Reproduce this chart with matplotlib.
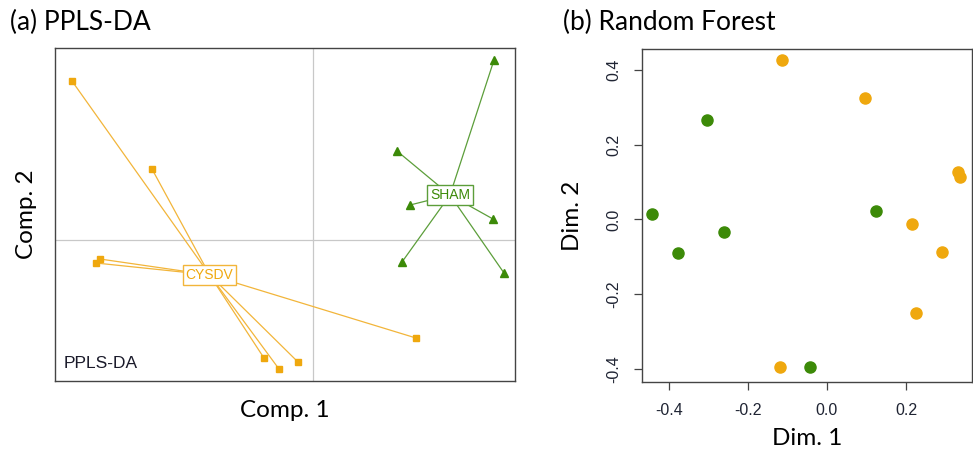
import matplotlib
matplotlib.use("Agg")
import matplotlib.pyplot as plt
import numpy as np

# ---- data ----
cysdv_comp1 = [-2.41, -1.61, -2.13, -2.17, -0.49, -0.34, -0.15, 1.03]
cysdv_comp2 = [1.59, 0.71, -0.19, -0.23, -1.18, -1.29, -1.22, -0.98]
sham_comp1 = [1.81, 0.84, 0.97, 1.80, 0.89, 1.91]
sham_comp2 = [1.80, 0.89, 0.35, 0.21, -0.22, -0.33]

rf_orange_dim1 = [-0.114, 0.096, 0.332, 0.337, 0.216, 0.292, 0.226, -0.119]
rf_orange_dim2 = [0.426, 0.325, 0.128, 0.114, -0.012, -0.088, -0.250, -0.396]
rf_green_dim1 = [-0.304, -0.443, -0.260, -0.376, 0.125, -0.042]
rf_green_dim2 = [0.265, 0.014, -0.034, -0.091, 0.023, -0.396]

rf_xticks = [-0.4, -0.2, 0.0, 0.2]
rf_yticks = [-0.4, -0.2, 0.0, 0.2, 0.4]

ORANGE = "#EFA80E"
GREEN = "#3C8A08"
ORANGE_LINE = "#F2B53A"
GREEN_LINE = "#5C9E3A"
TITLE_FONT = "Lato"
TICK_FONT = "Liberation Sans"

fig = plt.figure(figsize=(9.73, 4.55), dpi=100)

# ---- panel (a) ----
ax1 = fig.add_axes([0.0565, 0.1626, 0.4728, 0.7319])
ax1.axvline(0, color="#C8C8C8", lw=0.9, zorder=0)
ax1.axhline(0, color="#C8C8C8", lw=0.9, zorder=0)

def group(ax, xs, ys, color, lcolor, marker, ms, label):
    cx, cy = np.mean(xs), np.mean(ys)
    for x, y in zip(xs, ys):
        ax.plot([cx, x], [cy, y], color=lcolor, lw=0.9, zorder=2)
    ax.plot(xs, ys, linestyle="none", marker=marker, color=color, ms=ms, zorder=3)
    ax.text(cx, cy, label, color=color, fontsize=10, family=TICK_FONT,
            ha="center", va="center", zorder=4,
            bbox=dict(boxstyle="square,pad=0.2", fc="white", ec=lcolor, lw=1.0))

group(ax1, cysdv_comp1, cysdv_comp2, ORANGE, ORANGE_LINE, "s", 5, "CYSDV")
group(ax1, sham_comp1, sham_comp2, GREEN, GREEN_LINE, "^", 5.5, "SHAM")

ax1.set_xlim(-2.58, 2.02)
ax1.set_ylim(-1.41, 1.92)
ax1.set_xticks([])
ax1.set_yticks([])
for s in ax1.spines.values():
    s.set_color("#444444")
    s.set_linewidth(1.0)
ax1.text(0.018, 0.03, "PPLS-DA", transform=ax1.transAxes, fontsize=12.5,
         family=TICK_FONT, color="#1a1a2a", ha="left", va="bottom")
ax1.set_xlabel("Comp. 1", fontsize=17.5, family=TITLE_FONT, labelpad=14)
ax1.set_ylabel("Comp. 2", fontsize=17.5, family=TITLE_FONT, labelpad=13)
fig.text(10 / 973, 1 - 22 / 455, "(a) PPLS-DA", fontsize=19, family=TITLE_FONT,
         ha="left", va="center")

# ---- panel (b) ----
ax2 = fig.add_axes([0.6598, 0.1604, 0.3392, 0.7319])
ax2.plot(rf_orange_dim1, rf_orange_dim2, "o", color=ORANGE, ms=8, mec=ORANGE)
ax2.plot(rf_green_dim1, rf_green_dim2, "o", color=GREEN, ms=8, mec=GREEN)
ax2.set_xlim(-0.468, 0.367)
ax2.set_ylim(-0.435, 0.456)
ax2.set_xticks(rf_xticks)
ax2.set_xticklabels([f"{v:.1f}" for v in rf_xticks])
ax2.set_yticks(rf_yticks)
ax2.set_yticklabels([f"{v:.1f}" for v in rf_yticks], rotation=90, va="center")
ax2.tick_params(direction="out", length=6, width=0.9, color="#444444",
                labelsize=11.5, labelcolor="#1f2433", pad=9)
for lab in ax2.get_xticklabels() + ax2.get_yticklabels():
    lab.set_family(TICK_FONT)
for s in ax2.spines.values():
    s.set_color("#444444")
    s.set_linewidth(1.0)
ax2.set_xlabel("Dim. 1", fontsize=17.5, family=TITLE_FONT, labelpad=7)
ax2.set_ylabel("Dim. 2", fontsize=17.5, family=TITLE_FONT, labelpad=17)
fig.text(563 / 973, 1 - 22 / 455, "(b) Random Forest", fontsize=19,
         family=TITLE_FONT, ha="left", va="center")

fig.savefig("out.png", dpi=100)
